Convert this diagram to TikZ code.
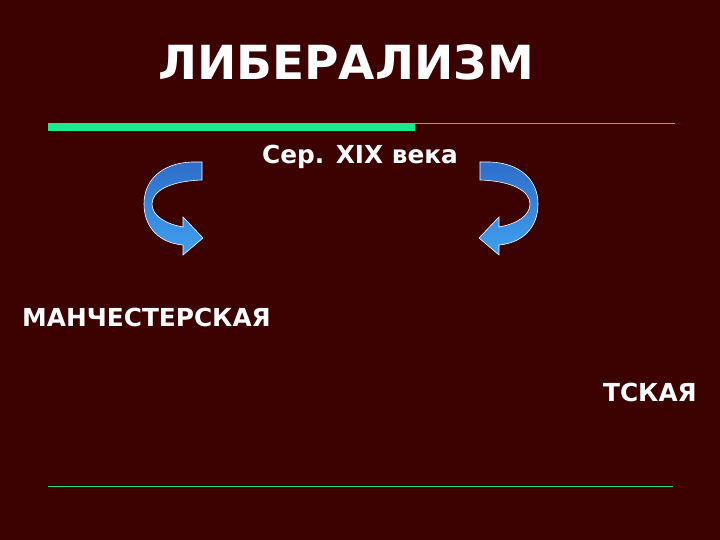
\documentclass[tikz,border=0pt]{standalone}
\usepackage{fontspec}
\setmainfont{DejaVu Sans}
\begin{document}
\begin{tikzpicture}[x=1pt,y=-1pt,
  txt/.style={text=white,font=\bfseries,inner sep=0pt},
  ribbon/.style={draw=white,line width=0.6pt,top color=ribtop,bottom color=ribbot,shading angle=0}]
\definecolor{bg}{RGB}{60,2,2}
\definecolor{barg}{RGB}{30,232,140}
\definecolor{lineg}{RGB}{40,220,120}
\definecolor{ribtop}{RGB}{46,110,200}
\definecolor{ribbot}{RGB}{64,160,240}
\fill[bg] (0,0) rectangle (720,540);
\useasboundingbox (0,0) rectangle (720,540);
% title
\node[txt,font=\bfseries\fontsize{47}{50}\selectfont] (title) at (346,62) {ЛИБЕРАЛИЗМ};
% lines
\fill[barg] (48,123) rectangle (415,131);
\fill[lineg] (415,123) rectangle (675,124.3);
\fill[lineg] (48,485.5) rectangle (673,486.8);
% texts
\node[txt,font=\bfseries\fontsize{24.8}{27}\selectfont] (mid) at (360,157) {Сер. XIX века};
\node[txt,font=\bfseries\fontsize{24.8}{27}\selectfont,anchor=west] (man) at (22,317) {МАНЧЕСТЕРСКАЯ};
\node[txt,font=\bfseries\fontsize{24.8}{27}\selectfont,anchor=east] (tsk) at (697,392) {ТСКАЯ};
% arrows
\newcommand{\ribbonarrow}{%
  \shade[ribbon] (202,162) -- (192,162) .. controls (162,163) and (144,180) .. (144,204)
    .. controls (144,228) and (160,243) .. (183,245) -- (183,255) -- (203,238) -- (183,217)
    -- (183,227) .. controls (166,224) and (152,216) .. (152,204)
    .. controls (152,191) and (170,181) .. (202,180) -- cycle;}
\ribbonarrow
\begin{scope}[shift={(682,0)},xscale=-1]
\ribbonarrow
\end{scope}
\end{tikzpicture}
\end{document}
